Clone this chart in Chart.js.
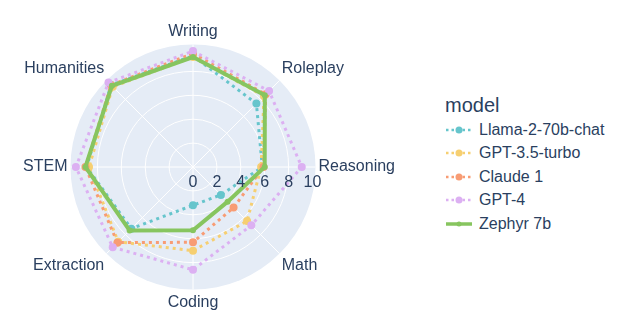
<!DOCTYPE html>
<html>
<head>
<meta charset="utf-8">
<script src="https://cdn.jsdelivr.net/npm/chart.js@4"></script>
<style>
  body { margin: 0; background: #fff; font-family: "Liberation Sans", Arial, sans-serif; }
  #wrap { position: relative; width: 640px; height: 326px; overflow: hidden; }
  #box { position: absolute; left: 8px; top: 0; width: 404px; height: 326px; }
  #legend { position: absolute; left: 445px; top: 94px; color: #2a3f5f; }
  #legend .title { font-size: 20px; margin-bottom: 1px; }
  #legend .item { display: flex; align-items: center; height: 23.5px; font-size: 16px; }
  #legend svg { margin-right: 6px; }
</style>
</head>
<body>
<div id="wrap">
  <div id="box"><canvas id="radar"></canvas></div>
  <div id="legend"><div class="title">model</div></div>
</div>
<script>
// categories clockwise from top
const categories = ["Writing", "Roleplay", "Reasoning", "Math", "Coding", "Extraction", "STEM", "Humanities"];
const radialTicks = [0, 2, 4, 6, 8, 10];

const models = ["Llama-2-70b-chat", "GPT-3.5-turbo", "Claude 1", "GPT-4", "Zephyr 7b"];
const llama = [9.3, 7.5, 5.8, 3.3, 3.2, 7.3, 8.9, 9.7];
const gpt35 = [9.2, 8.4, 5.7, 6.4, 7.0, 8.85, 8.7, 9.5];
const claude = [9.5, 8.6, 5.9, 4.8, 6.3, 8.95, 9.0, 9.7];
const gpt4 = [9.7, 9.0, 9.1, 6.9, 8.6, 9.5, 9.8, 10.0];
const zephyr = [9.2, 8.5, 6.0, 4.1, 5.3, 7.5, 9.0, 9.6];
const seriesValues = [llama, gpt35, claude, gpt4, zephyr];
const colors = ["#66c5cc", "#f6cf71", "#f89c74", "#dcb0f2", "#87c55f"];

const datasets = models.map((name, i) => {
  const solid = name === "Zephyr 7b";
  return {
    label: name,
    data: seriesValues[i],
    borderColor: colors[i],
    backgroundColor: colors[i],
    pointBackgroundColor: colors[i],
    pointBorderWidth: 0,
    pointRadius: solid ? 3 : 4,
    borderWidth: solid ? 4 : 3,
    borderDash: solid ? [] : [3, 4],
    fill: false,
    order: models.length - i
  };
});

const polarBg = {
  id: "polarBg",
  beforeDraw(chart) {
    const s = chart.scales.r, ctx = chart.ctx;
    ctx.save();
    ctx.beginPath();
    ctx.arc(s.xCenter, s.yCenter, s.drawingArea, 0, Math.PI * 2);
    ctx.fillStyle = "#e5ecf6";
    ctx.fill();
    ctx.restore();
  }
};

const radialLabels = {
  id: "radialLabels",
  afterDatasetsDraw(chart) {
    const s = chart.scales.r, ctx = chart.ctx;
    ctx.save();
    ctx.font = '16px "Liberation Sans"';
    ctx.fillStyle = "#2a3f5f";
    ctx.textAlign = "center";
    ctx.textBaseline = "middle";
    radialTicks.forEach(v => {
      ctx.fillText(String(v), s.xCenter + s.getDistanceFromCenterForValue(v), s.yCenter + 16);
    });
    ctx.restore();
  }
};

new Chart(document.getElementById("radar"), {
  type: "radar",
  data: { labels: categories, datasets },
  options: {
    responsive: true,
    maintainAspectRatio: false,
    animation: false,
    layout: { padding: { top: 8, bottom: 0, left: 0, right: 0 } },
    plugins: { legend: { display: false }, tooltip: { enabled: false } },
    scales: {
      r: {
        min: 0,
        max: 10.25,
        ticks: { display: false, stepSize: 2 },
        grid: {
          circular: true,
          color: c => (c.tick && c.tick.value > 10 ? "rgba(0,0,0,0)" : "#ffffff"),
          lineWidth: 1
        },
        angleLines: { color: "#ffffff", lineWidth: 1 },
        pointLabels: { color: "#2a3f5f", font: { size: 16, family: "Liberation Sans" }, padding: 3 }
      }
    }
  },
  plugins: [polarBg, radialLabels]
});

// legend
const legend = document.getElementById("legend");
models.forEach((name, i) => {
  const solid = name === "Zephyr 7b";
  const item = document.createElement("div");
  item.className = "item";
  item.innerHTML =
    '<svg width="28" height="12"><line x1="1" y1="6" x2="27" y2="6" stroke="' + colors[i] +
    '" stroke-width="' + (solid ? 3.5 : 2.5) + '"' + (solid ? "" : ' stroke-dasharray="2.5,3"') +
    '/><circle cx="14" cy="6" r="' + (solid ? 2.5 : 3.5) + '" fill="' + colors[i] + '"/></svg>' +
    "<span>" + name + "</span>";
  legend.appendChild(item);
});
</script>
</body>
</html>
